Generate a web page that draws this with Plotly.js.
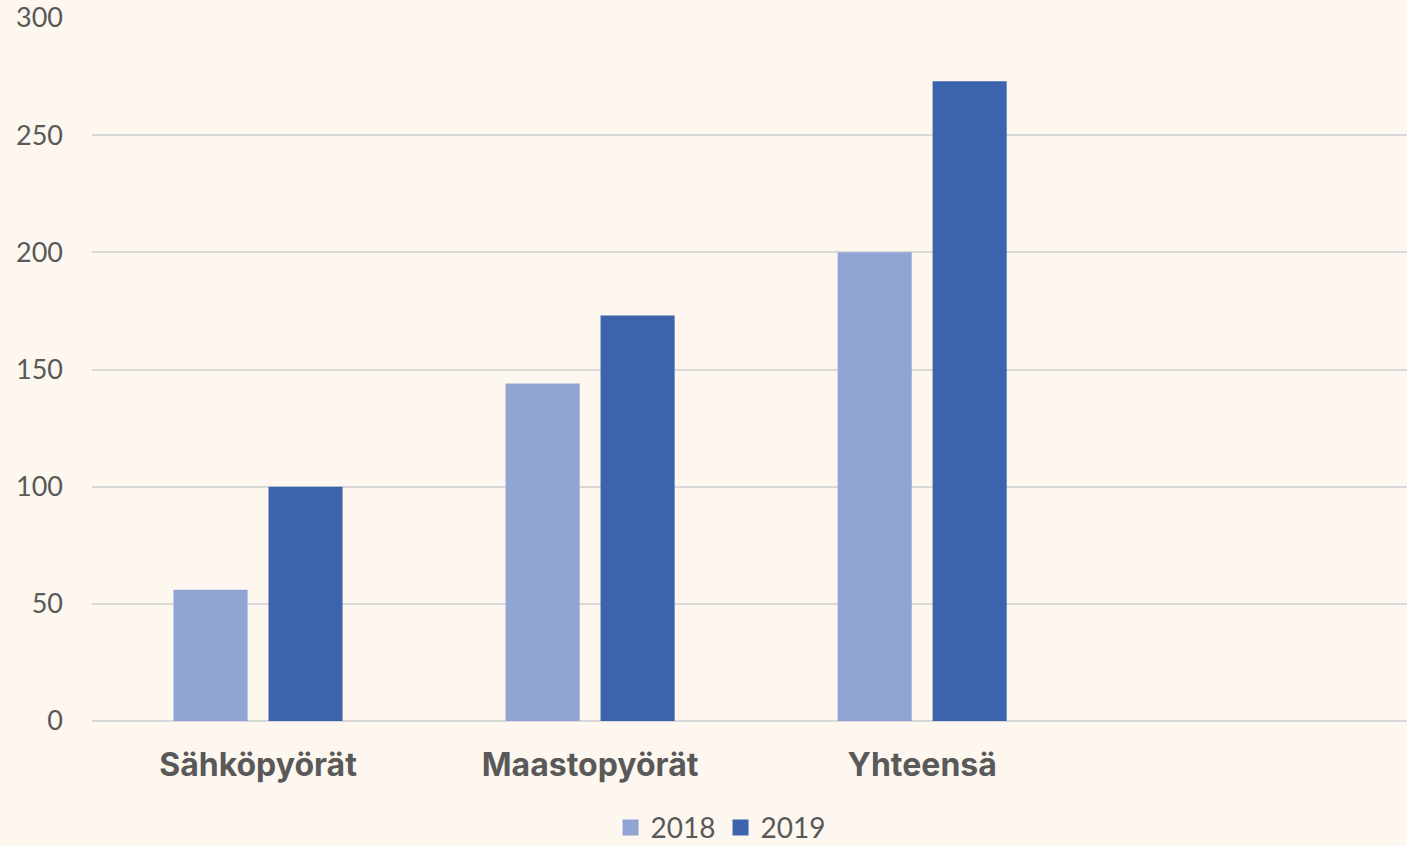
<!DOCTYPE html>
<html>
<head>
<meta charset="utf-8">
<script src="https://cdn.plot.ly/plotly-3.0.1.min.js"></script>
<style>
html,body{margin:0;padding:0;background:#fdf7f0;}
#chart{width:1407px;height:846px;}
</style>
</head>
<body>
<div id="chart"></div>
<script>
const categories = ["Sähköpyörät", "Maastopyörät", "Yhteensä"];
const seriesNames = ["2018", "2019"];
const seriesColors = ["#91a5d5", "#3c64ac"];
const values2018 = [56, 144, 200];
const values2019 = [100, 173, 273];
const yTicks = [0, 50, 100, 150, 200, 250, 300];

const traces = [
  {type: "bar", name: seriesNames[0], x: categories, y: values2018,
   marker: {color: seriesColors[0]}, showlegend: false},
  {type: "bar", name: seriesNames[1], x: categories, y: values2019,
   marker: {color: seriesColors[1]}, showlegend: false},
  // legend keys (square swatches)
  {type: "scatter", mode: "markers", name: seriesNames[0], x: [null], y: [null],
   marker: {symbol: "square", size: 16, color: seriesColors[0]}},
  {type: "scatter", mode: "markers", name: seriesNames[1], x: [null], y: [null],
   marker: {symbol: "square", size: 16, color: seriesColors[1]}}
];

const layout = {
  width: 1407, height: 846,
  paper_bgcolor: "#fdf7f0", plot_bgcolor: "#fdf7f0",
  margin: {l: 92, r: 0, t: 18, b: 125, autoexpand: false},
  barmode: "group", bargap: 0.428, bargroupgap: 0.22,
  showlegend: true,
  legend: {orientation: "h", x: 0.478, xanchor: "center", y: -0.152, yanchor: "middle",
           font: {family: "Lato, 'Open Sans', sans-serif", size: 28, color: "#595959"},
           itemwidth: 30, itemclick: false, bgcolor: "rgba(0,0,0,0)"},
  xaxis: {type: "category", categoryorder: "array", categoryarray: categories,
          range: [-0.5, 3.46], showgrid: false, zeroline: false, showline: false,
          ticks: "", tickfont: {family: "Inter, Roboto, sans-serif", size: 32, color: "#595959", weight: "bold"},
          ticklabelstandoff: 22},
  yaxis: {range: [0, 300], tickvals: yTicks, ticktext: yTicks.map(String),
          showgrid: true, gridcolor: "#d9d9d9", gridwidth: 2,
          zeroline: true, zerolinecolor: "#d9d9d9", zerolinewidth: 2,
          showline: false, ticks: "", ticklabelstandoff: 28,
          tickfont: {family: "Lato, 'Open Sans', sans-serif", size: 27, color: "#595959"}}
};

Plotly.newPlot("chart", traces, layout, {displayModeBar: false, staticPlot: true});
</script>
</body>
</html>
